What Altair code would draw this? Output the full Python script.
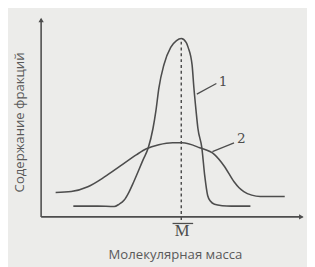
import altair as alt
import pandas as pd

# Curve 1 (narrow distribution)
c1_x = [12.2, 21.4, 27.7, 29.5, 31.4, 33.2, 35.1, 38.7, 40.6, 42.4, 43.5, 44.6, 46.5, 49.1, 51.3, 53.1,
        55.0, 55.7, 57.2, 57.9, 58.7, 59.4, 60.9, 62.0, 63.1, 64.2, 65.7, 68.6, 72.0, 79.3]
c1_y = [5.4, 5.4, 5.2, 6.3, 8.3, 12.2, 17.6, 28.8, 34.6, 44.4, 53.2, 64.4, 76.1, 84.9, 88.3, 89.3,
        87.3, 84.9, 76.1, 64.4, 53.2, 44.4, 34.6, 20.5, 10.7, 7.8, 6.3, 5.6, 5.4, 5.4]
# Curve 2 (broad distribution)
c2_x = [5.5, 11.4, 17.7, 24.0, 29.9, 36.2, 39.9, 44.6, 49.8, 53.5, 60.1, 65.7, 69.4, 73.1,
        75.0, 76.8, 79.8, 83.0, 92.3]
c2_y = [12.2, 12.7, 15.1, 20.0, 25.4, 31.2, 34.1, 36.1, 37.1, 37.1, 34.6, 31.2, 25.4, 17.6,
        14.6, 12.7, 10.9, 10.2, 10.2]

M_X = 53.1
PEAK_Y = 89.3

ink = "#4d4d4d"
xs = alt.Scale(domain=[-12.55, 100.74], nice=False, zero=False)
ys = alt.Scale(domain=[-23.41, 102.93], nice=False, zero=False)

df1 = pd.DataFrame({"x": c1_x, "y": c1_y})
df2 = pd.DataFrame({"x": c2_x, "y": c2_y})

def X(f="x"):
    return alt.X(f"{f}:Q", scale=xs, axis=None)

def Y(f="y"):
    return alt.Y(f"{f}:Q", scale=ys, axis=None)

line1 = alt.Chart(df1).mark_line(color=ink, strokeWidth=1.6, interpolate="monotone").encode(x=X(), y=Y())
line2 = alt.Chart(df2).mark_line(color=ink, strokeWidth=1.6, interpolate="monotone").encode(x=X(), y=Y())

axes = pd.DataFrame({"x": [0, 0], "y": [0, 0], "x2": [99, 0], "y2": [0, 99]})
axis_rules = alt.Chart(axes).mark_rule(color=ink, strokeWidth=1.6).encode(
    x=X(), y=Y(), x2="x2:Q", y2="y2:Q")

arrows = pd.DataFrame({"x": [98.6, 0], "y": [0, 98.6], "shape": ["triangle-right", "triangle-up"]})
arrow_marks = alt.Chart(arrows).mark_point(filled=True, color=ink, size=30, opacity=1).encode(
    x=X(), y=Y(), shape=alt.Shape("shape:N", scale=None))

dash = pd.DataFrame({"x": [M_X], "y": [-1.5], "y2": [PEAK_Y]})
dash_rule = alt.Chart(dash).mark_rule(color=ink, strokeWidth=1.5, strokeDash=[3, 3]).encode(
    x=X(), y=Y(), y2="y2:Q")

leaders = pd.DataFrame({"x": [59.0, 64.9], "y": [61.5, 32.7], "x2": [66.4, 73.1], "y2": [66.8, 37.1]})
leader_rules = alt.Chart(leaders).mark_rule(color=ink, strokeWidth=1.3).encode(
    x=X(), y=Y(), x2="x2:Q", y2="y2:Q")

nums = pd.DataFrame({"x": [67.3, 74.2], "y": [67.5, 39.0], "t": ["1", "2"]})
num_text = alt.Chart(nums).mark_text(font="DejaVu Serif", fontSize=14, color=ink, align="left",
                                     baseline="middle").encode(x=X(), y=Y(), text="t:N")

mdf = pd.DataFrame({"x": [M_X + 0.3], "y": [-7.3], "t": ["M"]})
m_text = alt.Chart(mdf).mark_text(font="Liberation Serif", fontSize=17, color=ink,
                                  baseline="middle").encode(x=X(), y=Y(), text="t:N")
over = pd.DataFrame({"x": [49.8], "x2": [57.6], "y": [-3.3]})
over_rule = alt.Chart(over).mark_rule(color=ink, strokeWidth=1.3).encode(x=X(), x2="x2:Q", y=Y())

xt = pd.DataFrame({"x": [50.9], "y": [-19.0], "t": ["Молекулярная масса"]})
x_title = alt.Chart(xt).mark_text(font="Open Sans", fontSize=13.5, color="#5a5a5a",
                                  baseline="middle").encode(x=X(), y=Y(), text="t:N")
yt = pd.DataFrame({"x": [-7.9], "y": [47.3], "t": ["Содержание фракций"]})
y_title = alt.Chart(yt).mark_text(font="Open Sans", fontSize=13.5, color="#5a5a5a", angle=270,
                                  baseline="middle").encode(x=X(), y=Y(), text="t:N")

chart = alt.layer(
    line2, line1, axis_rules, arrow_marks, dash_rule, leader_rules, num_text,
    m_text, over_rule, x_title, y_title
).properties(
    width=307, height=259, padding=0, background="#ececea",
    autosize=alt.AutoSizeParams(type="fit", contains="padding")
).configure_view(stroke=None)

chart.save("out.html", embed_options={"renderer": "svg", "actions": False})
